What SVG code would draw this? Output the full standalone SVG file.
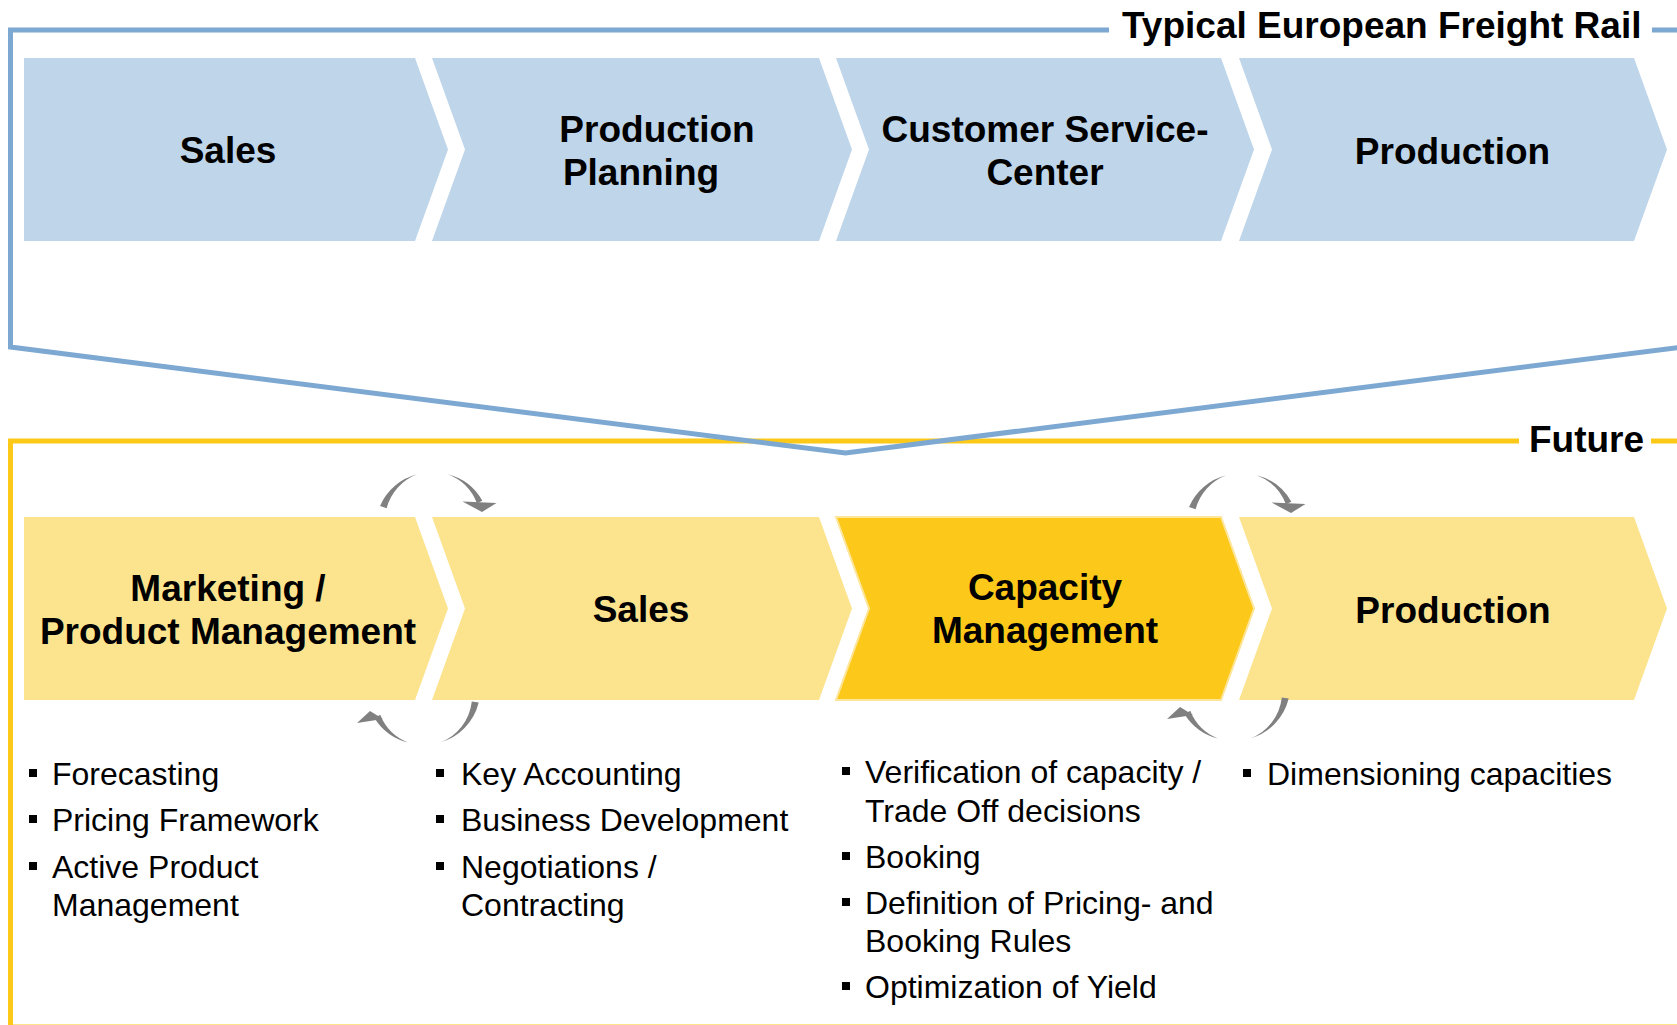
<svg xmlns="http://www.w3.org/2000/svg" width="1677" height="1025" viewBox="0 0 1677 1025">
<style>
.frameB{fill:none;stroke:#7DA8D2;stroke-width:5;stroke-linejoin:miter}
.frameY{fill:none;stroke:#FCC919;stroke-width:5}
.chB{fill:#BED5EA}
.chY{fill:#FCE38E}
.chC{fill:#FCC819;stroke:#FDE59A;stroke-width:2}
.hdr{font-family:"Liberation Sans",Arial,sans-serif;font-weight:bold;font-size:37px;fill:#000}
.lbl{font-family:"Liberation Sans",Arial,sans-serif;font-weight:bold;font-size:37px;fill:#000;text-anchor:middle}
.bul{font-family:"Liberation Sans",Arial,sans-serif;font-size:32px;fill:#000}
.arc{fill:#808080}
</style>
<defs>
<g id="pairTop">
<path class="arc" d="M-52.48,-18.07 A55 55 0 0 1 -15.2,-49.73 A50 50 0 0 0 -45.86,-15.79 Z"/>
<path class="arc" d="M15.2,-49.73 A55 55 0 0 1 49.85,-23.24 L44.41,-20.71 A50 50 0 0 0 15.2,-49.73 Z"/>
<polygon class="arc" points="30,-22.5 64,-21 49.5,-12"/>
</g>
<g id="pairBot">
<path class="arc" d="M478.7,702.6 A55 55 0 0 1 440.1,742.5 A50 50 0 0 0 471.8,701.4 Z" transform="translate(-424,-693)"/>
<path class="arc" d="M407.9,742.5 A55 55 0 0 1 374.6,718.3 L380.2,714.8 A50 50 0 0 0 407.9,742.5 Z" transform="translate(-424,-693)"/>
<polygon class="arc" points="-67,30 -41,26 -54,18"/>
</g>
</defs>

<g id="frame-future">
<polyline class="frameY" points="1519,441 10.5,441 10.5,1027 1690,1027"/>
<line class="frameY" x1="1651" y1="441" x2="1690" y2="441"/>
<text class="hdr" x="1529" y="452">Future</text>
</g>

<g id="frame-typical">
<polyline class="frameB" points="1109,30 10.5,30 10.5,347 845.5,453 1690,346"/>
<line class="frameB" x1="1652" y1="30" x2="1690" y2="30"/>
<text class="hdr" x="1122" y="38">Typical European Freight Rail</text>
</g>

<g id="node-sales-top">
<path class="chB" d="M24,58 H415 L448,149.5 L415,241 H24 Z"/>
<text class="lbl" x="228" y="163">Sales</text>
</g>
<g id="node-production-planning">
<path class="chB" d="M432,58 H819 L852,149.5 L819,241 H432 L465,149.5 Z"/>
<text class="lbl" x="657" y="142">Production</text>
<text class="lbl" x="641" y="185">Planning</text>
</g>
<g id="node-customer-service">
<path class="chB" d="M836,58 H1221 L1254,149.5 L1221,241 H836 L869,149.5 Z"/>
<text class="lbl" x="1045" y="142">Customer Service-</text>
<text class="lbl" x="1045" y="185">Center</text>
</g>
<g id="node-production-top">
<path class="chB" d="M1239,58 H1634 L1667,149.5 L1634,241 H1239 L1272,149.5 Z"/>
<text class="lbl" x="1452.5" y="164">Production</text>
</g>

<g id="node-marketing">
<path class="chY" d="M24,517 H415 L448,608.5 L415,700 H24 Z"/>
<text class="lbl" x="228" y="601">Marketing /</text>
<text class="lbl" x="228" y="644">Product Management</text>
</g>
<g id="node-sales-future">
<path class="chY" d="M432,517 H819 L852,608.5 L819,700 H432 L465,608.5 Z"/>
<text class="lbl" x="641" y="622">Sales</text>
</g>
<g id="node-capacity">
<path class="chC" d="M836,517 H1221 L1254,608.5 L1221,700 H836 L869,608.5 Z"/>
<text class="lbl" x="1045" y="600">Capacity</text>
<text class="lbl" x="1045" y="643">Management</text>
</g>
<g id="node-production-future">
<path class="chY" d="M1239,517 H1634 L1667,608.5 L1634,700 H1239 L1272,608.5 Z"/>
<text class="lbl" x="1453" y="623">Production</text>
</g>

<g id="connectors">
<use href="#pairTop" transform="translate(432.5,524)"/>
<use href="#pairTop" transform="translate(1241.5,525)"/>
<use href="#pairBot" transform="translate(424,693)"/>
<use href="#pairBot" transform="translate(1234,689)"/>
</g>

<g id="list-marketing">
<rect x="29" y="769" width="8" height="8"/>
<text class="bul" x="52" y="785">Forecasting</text>
<rect x="29" y="815" width="8" height="8"/>
<text class="bul" x="52" y="831">Pricing Framework</text>
<rect x="29" y="862" width="8" height="8"/>
<text class="bul" x="52" y="878">Active Product</text>
<text class="bul" x="52" y="916">Management</text>
</g>
<g id="list-sales">
<rect x="436" y="769" width="8" height="8"/>
<text class="bul" x="461" y="785">Key Accounting</text>
<rect x="436" y="815" width="8" height="8"/>
<text class="bul" x="461" y="831">Business Development</text>
<rect x="436" y="862" width="8" height="8"/>
<text class="bul" x="461" y="878">Negotiations /</text>
<text class="bul" x="461" y="916">Contracting</text>
</g>
<g id="list-capacity">
<rect x="842" y="767" width="8" height="8"/>
<text class="bul" x="865" y="783">Verification of capacity /</text>
<text class="bul" x="865" y="822">Trade Off decisions</text>
<rect x="842" y="852" width="8" height="8"/>
<text class="bul" x="865" y="868">Booking</text>
<rect x="842" y="898" width="8" height="8"/>
<text class="bul" x="865" y="914">Definition of Pricing- and</text>
<text class="bul" x="865" y="952">Booking Rules</text>
<rect x="842" y="982" width="8" height="8"/>
<text class="bul" x="865" y="998">Optimization of Yield</text>
</g>
<g id="list-production">
<rect x="1243" y="769" width="8" height="8"/>
<text class="bul" x="1267" y="785">Dimensioning capacities</text>
</g>
</svg>
